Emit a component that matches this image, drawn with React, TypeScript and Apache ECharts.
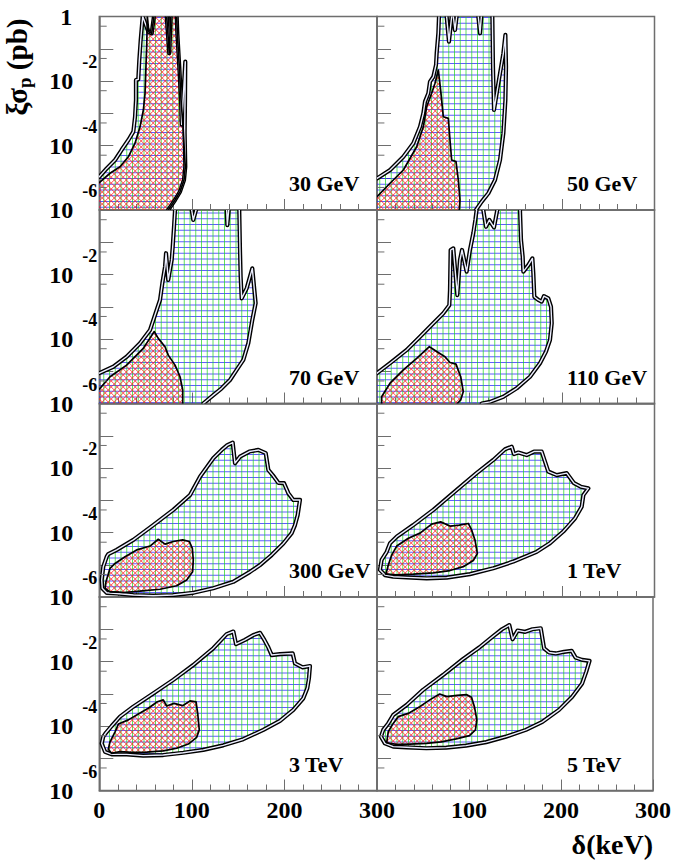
import React, { useEffect, useRef } from 'react';
import * as echarts from 'echarts';

// ---------- data: contours as [delta (keV), log10(xi*sigma_p / pb)] ----------
const panelLabels = ['30 GeV', '50 GeV', '70 GeV', '110 GeV', '300 GeV', '1 TeV', '3 TeV', '5 TeV'];

const blue30GeV = [[0,-6],[0,-4.97],[8,-4.71],[17,-4.45],[24,-4.14],[31.4,-3.83],[36.8,-3.57],[38.6,-3.11],[39.6,-2.59],[39.6,-1.97],[42.1,-1.95],[43.2,-1.35],[44.7,-0.73],[46.9,0],[53,-0.47],[56.6,-0.52],[59,0],[72.8,0],[75.6,-1.14],[77.1,0],[83.6,0],[84.3,-0.52],[86.4,-1.56],[88.3,-2.59],[89,-3.35],[92.9,-1.4],[92.6,-2.6],[92.2,-3.6],[92.9,-4.66],[91.5,-5.07],[87.2,-5.43],[81.8,-5.69],[74.5,-6]];
const red30GeV = [[0,-6],[0,-5.15],[11.6,-4.86],[22.4,-4.66],[31.4,-4.35],[38.6,-3.93],[44,-3.42],[47.6,-2.9],[49.4,-2.38],[50.4,-1.56],[51.2,-0.94],[51.9,0],[53.5,-0.47],[56.6,-0.52],[59,0],[72.8,0],[75.6,-1.14],[77.1,0],[83.6,0],[84.3,-0.52],[86.4,-1.56],[88.3,-2.59],[90.5,-3.42],[91.8,-4.14],[92.9,-4.66],[91.5,-5.07],[87.2,-5.43],[81.8,-5.69],[74.5,-6]];

const blue50GeV = [[0,-6],[0,-5.02],[14.1,-4.76],[28.5,-4.35],[39.3,-3.93],[46.5,-3.42],[50.1,-3.0],[51.9,-2.64],[55.5,-2.38],[57.3,-2.02],[60.9,-1.87],[63.8,-1.5],[64.5,-1.14],[66.3,-0.52],[67,0],[75.3,0],[77.8,-0.78],[80.7,0],[82.5,0],[84.3,-0.42],[86.1,0],[109.5,0],[111.4,-0.52],[112.8,0],[124.7,0],[125.4,-1.56],[126.5,-2.9],[131.2,-2.07],[136.6,-1.14],[138.8,-0.57],[139.5,-1.56],[138.8,-2.59],[136.6,-3.62],[133,-4.45],[127.6,-5.07],[120.4,-5.48],[113.2,-5.74],[107,-6]];
const red50GeV = [[0,-6],[0,-5.59],[14.1,-5.17],[28.5,-4.76],[42.9,-4.04],[50.1,-3.42],[53.7,-2.8],[59.1,-2.38],[62.7,-2.07],[66.3,-1.66],[68.8,-2.28],[71.7,-3.11],[77.1,-3.16],[78.9,-3.83],[80.7,-4.45],[85.4,-4.5],[87.9,-5.07],[89.7,-5.69],[89,-6]];

const blue70GeV = [[0,-6],[0,-5.06],[15.1,-4.86],[29.5,-4.55],[44,-4.13],[54.8,-3.72],[62,-3.1],[65.6,-2.79],[68.1,-2.27],[71,-1.76],[72.1,-1.34],[74.5,-2.17],[78.2,-1.55],[79.3,-1.14],[80.7,-0.52],[81.8,0],[99.8,0],[101.5,-0.31],[104.5,0],[137.6,0],[138.3,-0.47],[139.8,0],[151.2,0],[152,-1.24],[152.7,-2.07],[153.8,-2.74],[159.2,-2.43],[165.3,-1.81],[168.2,-2.69],[168.9,-2.89],[165.3,-3.41],[161,-4.13],[155.6,-4.65],[148.4,-4.96],[141.2,-5.27],[132.2,-5.53],[123.2,-5.74],[112.3,-6]];
const red70GeV = [[0,-6],[0,-5.56],[11.6,-5.17],[29.5,-4.81],[47.5,-4.29],[59.4,-3.77],[63.7,-3.98],[71,-4.24],[74.5,-4.5],[81.8,-4.81],[87.2,-5.17],[90.1,-5.58],[90.1,-6]];

const blue110GeV = [[0,-6],[0,-5.06],[14.1,-4.75],[32.1,-4.34],[46.5,-3.93],[60.9,-3.51],[71.7,-3.2],[78.2,-2.95],[78.9,-2.48],[79.6,-1.24],[82.5,-1.19],[86.8,-2.64],[89.7,-1.55],[91.9,-1.24],[96.9,-1.91],[100.5,-1.24],[104.1,-0.72],[106.3,-0.31],[107.7,0],[114.9,0],[117.8,-0.52],[121.4,-0.31],[126.5,-0.54],[130,0],[154.6,0],[155.7,-0.93],[157.5,-1.45],[158.2,-1.91],[163.6,-1.71],[168,-1.5],[169,-1.96],[170.1,-2.69],[174.4,-2.79],[178,-2.84],[180.5,-2.67],[185.2,-2.74],[188.1,-3.0],[188.9,-3.51],[187,-4.03],[182.7,-4.39],[176.2,-4.75],[165.4,-5.17],[151,-5.53],[136.6,-5.79],[122.2,-5.95],[113.2,-6]];
const red110GeV = [[5,-6],[5,-5.79],[14.1,-5.37],[28.5,-4.96],[42.9,-4.6],[56.6,-4.24],[64.5,-4.39],[73.5,-4.55],[78.9,-4.73],[85.4,-4.78],[90.5,-5.17],[93.3,-5.63],[90.5,-5.89],[86.8,-6]];

const blue300GeV = [[8,-4.75],[4.3,-5.06],[2.6,-5.47],[3.2,-5.73],[8,-5.87],[18.8,-5.89],[36.8,-5.94],[58.3,-5.96],[79.9,-5.94],[101.5,-5.87],[123.1,-5.73],[144.7,-5.53],[162.8,-5.22],[173.6,-5.01],[186.2,-4.7],[198.8,-4.34],[207.8,-4.02],[211.4,-3.77],[214.3,-3.46],[216.8,-2.99],[209.6,-2.99],[204.2,-2.78],[199.5,-2.47],[193.4,-2.46],[187.3,-2.22],[182.6,-2.06],[179.8,-1.54],[171.8,-1.44],[162.1,-1.49],[152,-1.65],[146.6,-1.85],[144.1,-1.21],[138.3,-1.29],[132.2,-1.44],[123.1,-1.7],[108.8,-2.27],[98,-2.84],[79.9,-3.3],[58.3,-3.77],[36.8,-4.23],[18.8,-4.54],[9.7,-4.67]];
const red300GeV = [[7.2,-5.53],[11.6,-5.11],[17,-4.96],[27.8,-4.75],[40.4,-4.54],[54.8,-4.42],[63.7,-4.21],[71,-4.36],[79.9,-4.28],[90.1,-4.23],[97.3,-4.28],[100.5,-4.49],[101.5,-4.85],[100.8,-5.22],[94.4,-5.47],[83.6,-5.65],[65.6,-5.76],[44,-5.82],[25.9,-5.86],[11.6,-5.84],[6.2,-5.73]];

const blue1TeV = [[5,-4.85],[3.2,-5.16],[8.6,-5.32],[17.6,-5.37],[32.1,-5.39],[53.7,-5.42],[75.4,-5.4],[100.5,-5.29],[125.7,-5.11],[147.4,-4.9],[172.6,-4.6],[187,-4.33],[201.4,-3.97],[214.1,-3.56],[221.3,-3.2],[223.1,-2.84],[228.5,-2.63],[220.2,-2.58],[213,-2.47],[205.1,-2.16],[194.3,-2.22],[185.2,-2.11],[178,-1.49],[169.7,-1.49],[161.8,-1.6],[152.8,-1.52],[148.1,-1.57],[145.6,-1.34],[138.4,-1.42],[125.7,-1.75],[107.7,-2.16],[86.2,-2.68],[60.9,-3.3],[39.2,-3.77],[21.3,-4.13],[14.1,-4.33],[10.5,-4.6]];
const red1TeV = [[9.7,-5.29],[12.2,-5.01],[15.9,-4.7],[21.3,-4.42],[33.9,-4.18],[46.5,-4.02],[59.1,-3.74],[68.8,-3.67],[78.9,-3.8],[89,-3.77],[98.7,-3.72],[102.3,-3.92],[105.9,-4.23],[108.5,-4.65],[104.1,-4.87],[93.3,-5.06],[78.9,-5.18],[60.9,-5.25],[39.2,-5.29],[21.3,-5.31]];

const blue3TeV = [[4.3,-4.33],[2.6,-4.54],[6.2,-4.8],[13.4,-4.88],[29.6,-4.88],[47.5,-4.92],[69.1,-4.9],[90.7,-4.83],[112.3,-4.74],[133.9,-4.6],[155.5,-4.41],[177.2,-4.12],[195.2,-3.84],[209.6,-3.5],[220.4,-3.14],[224.7,-2.83],[226.5,-2.52],[227.6,-2.14],[219.7,-2.18],[211.4,-2.06],[208.9,-1.75],[195.2,-1.77],[186.2,-1.8],[182.6,-1.56],[178.3,-1.33],[173.6,-1.11],[166.4,-1.18],[157.4,-1.33],[147.7,-1.46],[144.8,-1.07],[137.6,-1.15],[123.1,-1.59],[101.5,-2.11],[79.9,-2.57],[58.3,-2.99],[36.8,-3.4],[22.4,-3.71],[13.4,-4.0],[7.2,-4.21]];
const red3TeV = [[9.7,-4.72],[11.6,-4.49],[17,-4.18],[20.6,-3.94],[31.4,-3.81],[42.2,-3.63],[52.9,-3.45],[62.7,-3.25],[69.1,-3.19],[72.8,-3.38],[80.7,-3.3],[90.1,-3.37],[98,-3.22],[104.5,-3.25],[106.3,-3.61],[108,-4.12],[105.2,-4.35],[96.2,-4.56],[83.6,-4.69],[69.1,-4.77],[51.2,-4.81],[35,-4.82],[22.4,-4.79],[13.4,-4.85]];

const blue5TeV = [[6.8,-4.12],[4.3,-4.33],[8.6,-4.54],[17.6,-4.64],[32.1,-4.66],[53.7,-4.69],[75.4,-4.67],[96.9,-4.61],[118.6,-4.5],[140.2,-4.33],[161.8,-4.12],[179.8,-3.87],[197.8,-3.5],[212.2,-3.09],[223,-2.68],[227.4,-2.32],[231,-1.98],[223,-1.95],[215.9,-1.88],[211.6,-1.67],[203.2,-1.7],[194.3,-1.75],[187,-1.72],[181.6,-1.59],[178,-0.97],[169,-1.0],[161,-1.08],[152.8,-1.04],[147.4,-1.31],[143.8,-0.87],[135.9,-1.0],[125.7,-1.23],[111.4,-1.56],[93.3,-1.93],[71.7,-2.42],[50.1,-2.88],[32.1,-3.35],[17.6,-3.66],[12.2,-3.92]];
const red5TeV = [[10.5,-4.52],[12.2,-4.18],[17.6,-3.92],[23,-3.71],[33.9,-3.61],[46.5,-3.4],[57.3,-3.19],[68.1,-3.01],[76,-3.09],[86.8,-3.05],[97.6,-3.03],[102.7,-3.11],[105.9,-3.4],[108.5,-3.81],[107,-4.12],[100.5,-4.3],[86.1,-4.4],[69.9,-4.49],[53.7,-4.54],[35.7,-4.56],[21.3,-4.57]];

const blueRegions = [blue30GeV, blue50GeV, blue70GeV, blue110GeV, blue300GeV, blue1TeV, blue3TeV, blue5TeV];
const redRegions = [red30GeV, red50GeV, red70GeV, red110GeV, red300GeV, red1TeV, red3TeV, red5TeV];

const xMin = 0, xMax = 300, xInterval = 100;
const yMin = 1e-6, yMax = 1;
const yMinorTicks = [5e-1, 5e-2, 5e-3, 5e-4, 5e-5, 5e-6];

// ---------- layout / style ----------
const FONT = 'Liberation Serif, Times New Roman, serif';
const FRAME = '#6e6e6e';
const COL_LEFT = [99.3, 377];
const COL_W = [277.7, 277.5];
const ROW_TOP = [16.5, 210, 403.5, 597];
const ROW_H = 193.5;
const GRID_SP = 5.75;
const RED_SP = 6;

const f = (v: number) => v.toFixed(2);

function hatch(pts: number[][], level: (p: number[]) => number, order: (p: number[]) => number, sp: number): string {
  const n = pts.length;
  let lo = Infinity, hi = -Infinity;
  for (const p of pts) { const v = level(p); if (v < lo) lo = v; if (v > hi) hi = v; }
  let d = '';
  for (let k = Math.ceil(lo / sp); k * sp <= hi; k++) {
    const c = k * sp + 0.25;
    const xs: number[][] = [];
    for (let i = 0; i < n; i++) {
      const a = pts[i], b = pts[(i + 1) % n];
      const la = level(a), lb = level(b);
      if ((la <= c && lb > c) || (lb <= c && la > c)) {
        const t = (c - la) / (lb - la);
        xs.push([a[0] + t * (b[0] - a[0]), a[1] + t * (b[1] - a[1])]);
      }
    }
    xs.sort((p, q) => order(p) - order(q));
    for (let j = 0; j + 1 < xs.length; j += 2) {
      d += `M${f(xs[j][0])} ${f(xs[j][1])}L${f(xs[j + 1][0])} ${f(xs[j + 1][1])}`;
    }
  }
  return d;
}

function outline(data: number[][], px: number[][]): string {
  const n = data.length;
  let d = '';
  let pen = false;
  let skipped = false;
  for (let i = 0; i < n; i++) {
    const a = data[i], b = data[(i + 1) % n];
    const onEdge = (a[1] >= -0.001 && b[1] >= -0.001) || (a[1] <= -5.999 && b[1] <= -5.999) || (a[0] <= 0.001 && b[0] <= 0.001);
    if (onEdge) { pen = false; skipped = true; continue; }
    const A = px[i], B = px[(i + 1) % n];
    if (!pen) { d += `M${f(A[0])} ${f(A[1])}`; pen = true; }
    d += `L${f(B[0])} ${f(B[1])}`;
  }
  if (!skipped) d += 'Z';
  return d;
}

function pathEl(d: string, stroke: string, lineWidth: number) {
  return { type: 'path', shape: { pathData: d }, style: { fill: 'none', stroke, lineWidth, lineJoin: 'round', lineCap: 'round' }, silent: true };
}

function makeRender(i: number) {
  return (params: any, api: any) => {
    const toPx = (pts: number[][]) => pts.map(([x, e]) => api.coord([x, Math.pow(10, e)]));
    const bp = toPx(blueRegions[i]);
    const rp = toPx(redRegions[i]);
    const children: any[] = [];
    const add = (d: string, stroke: string, w: number) => { if (d) children.push(pathEl(d, stroke, w)); };
    add(hatch(bp, (q) => q[1], (q) => q[0], GRID_SP), 'rgba(30,30,255,0.8)', 0.9);
    add(hatch(bp, (q) => q[0], (q) => q[1], GRID_SP), 'rgba(30,215,30,0.8)', 0.9);
    add(hatch(rp, (q) => q[0] - q[1], (q) => q[0], RED_SP), 'rgba(255,35,35,0.9)', 0.9);
    add(hatch(rp, (q) => q[0] + q[1], (q) => q[0], RED_SP), 'rgba(255,35,35,0.9)', 0.9);
    const bo = outline(blueRegions[i], bp);
    add(bo, '#000', 4.2);
    add(bo, '#eceeff', 1.4);
    add(outline(redRegions[i], rp), '#000', 1.7);
    let td = '';
    for (const v of yMinorTicks) {
      const c = api.coord([xMin, v]);
      td += `M${f(c[0])} ${f(c[1])}L${f(c[0] + 7)} ${f(c[1])}`;
    }
    add(td, FRAME, 1);
    return { type: 'group', children };
  };
}

function buildOption() {
  const grid: any[] = [], xAxis: any[] = [], yAxis: any[] = [], series: any[] = [], graphic: any[] = [];
  for (let i = 0; i < 8; i++) {
    const r = Math.floor(i / 2), c = i % 2;
    grid.push({ left: COL_LEFT[c], top: ROW_TOP[r], width: COL_W[c], height: ROW_H, show: true, borderColor: FRAME, borderWidth: 1.5, backgroundColor: 'transparent' });
    xAxis.push({
      gridIndex: i, type: 'value', min: xMin, max: xMax, interval: xInterval,
      axisLine: { show: true, lineStyle: { color: FRAME, width: 1.5 } },
      axisTick: { show: true, inside: true, length: 11, lineStyle: { color: FRAME, width: 1 } },
      minorTick: { show: true, splitNumber: 5, length: 6, lineStyle: { color: FRAME, width: 1 } },
      splitLine: { show: false }, minorSplitLine: { show: false },
      axisLabel: {
        show: r === 3, margin: 7, color: '#000', fontFamily: FONT, fontWeight: 'bold', fontSize: 24,
        showMinLabel: true, showMaxLabel: true,
        formatter: (v: number) => (c === 1 && v === 0 ? '' : String(v)),
      },
    });
    yAxis.push({
      gridIndex: i, type: 'log', logBase: 10, min: yMin, max: yMax,
      axisLine: { show: true, lineStyle: { color: FRAME, width: 1.5 } },
      axisTick: { show: true, inside: true, length: 14, lineStyle: { color: FRAME, width: 1 } },
      minorTick: { show: false }, splitLine: { show: false },
      axisLabel: {
        show: c === 0, margin: 2, color: '#000', showMinLabel: true, showMaxLabel: true,
        formatter: (v: number) => {
          const e = Math.round(Math.log10(v));
          if (e === 0) return r === 0 ? '{one|1}' : '';
          if (e % 2 !== 0) return '';
          return `{b|10}{e|${e}}`;
        },
        rich: {
          b: { fontFamily: FONT, fontWeight: 'bold', fontSize: 24, color: '#000', lineHeight: 56 },
          e: { fontFamily: FONT, fontWeight: 'bold', fontSize: 18, color: '#000', verticalAlign: 'top', padding: [0, 0, 0, 9] },
          one: { fontFamily: FONT, fontWeight: 'bold', fontSize: 24, color: '#000', padding: [0, 25, 0, 0] },
        },
      },
    });
    series.push({
      type: 'custom', coordinateSystem: 'cartesian2d', xAxisIndex: i, yAxisIndex: i,
      clip: true, silent: true, data: [[150, 1e-3]], renderItem: makeRender(i),
    });
    graphic.push({
      type: 'text', left: c === 0 ? 289 : 567, top: [184, 378, 571, 765][r] - 12,
      style: { text: panelLabels[i], fontFamily: FONT, fontWeight: 'bold', fontSize: 22, fill: '#000' },
      silent: true,
    });
  }
  graphic.push({
    type: 'text', x: 653, y: 844,
    style: { text: 'δ(keV)', fontFamily: FONT, fontWeight: 'bold', fontSize: 28, fill: '#000', align: 'right', verticalAlign: 'middle' },
    silent: true,
  });
  graphic.push({
    type: 'text', x: 17, y: 67, rotation: Math.PI / 2,
    style: {
      text: '{a|ξσ}{s|p}{a| (pb)}', align: 'center', verticalAlign: 'middle',
      rich: {
        a: { fontFamily: FONT, fontWeight: 'bold', fontSize: 29, fill: '#000', lineHeight: 34 },
        s: { fontFamily: FONT, fontWeight: 'bold', fontSize: 19, fill: '#000', verticalAlign: 'bottom', lineHeight: 34 },
      },
    },
    silent: true,
  });
  return { animation: false, backgroundColor: '#fff', grid, xAxis, yAxis, series, graphic };
}

export default function App() {
  const ref = useRef<HTMLDivElement>(null);
  useEffect(() => {
    const chart = echarts.init(ref.current!, null, { renderer: 'svg' });
    chart.setOption(buildOption() as any);
    return () => chart.dispose();
  }, []);
  return <div ref={ref} style={{ position: 'absolute', left: 0, top: 0, width: 674, height: 860, background: '#fff' }} />;
}
